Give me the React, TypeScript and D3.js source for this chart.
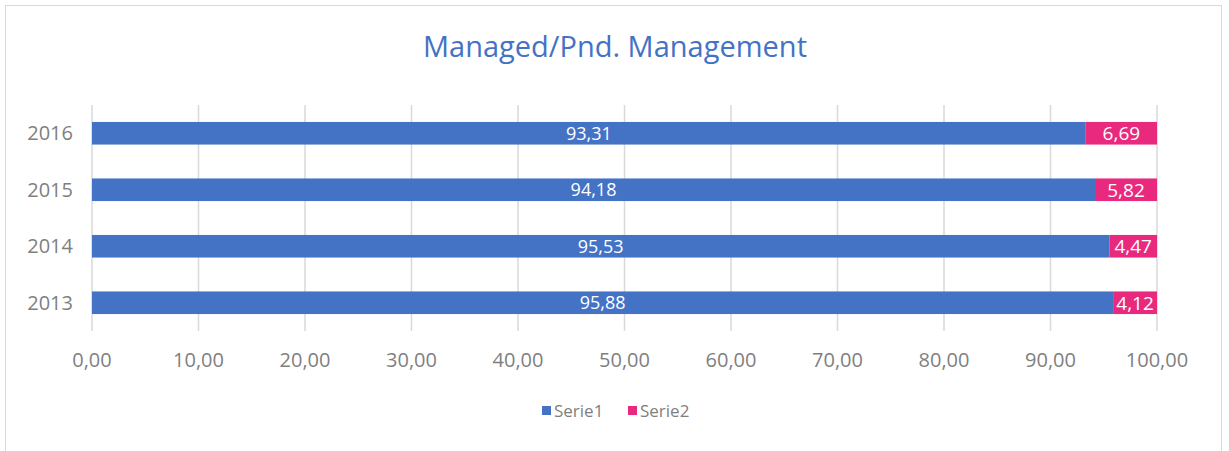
import React, {JSX} from "react";
import * as d3 from "d3";

const years = ["2016", "2015", "2014", "2013"];
const serie1 = [93.31, 94.18, 95.53, 95.88];
const serie2 = [6.69, 5.82, 4.47, 4.12];
const xTicks = [0, 10, 20, 30, 40, 50, 60, 70, 80, 90, 100];
const seriesNames = ["Serie1", "Serie2"];
const colors = ["#4472C4", "#E8297E"];

const fmt = (v: number) => v.toFixed(2).replace(".", ",");

export default function App(): JSX.Element {
    const width = 1229
    const height = 451
    const font = "'Open Sans', 'Noto Sans', sans-serif"
    const x = d3.scaleLinear([0, 100], [92, 1157]);
    const y = d3.scaleBand(years, [105, 331]).paddingInner(0.6).paddingOuter(0.3);
    const bh = y.bandwidth();

    return (
        <div style={{position: "absolute", left: 0, top: 0}}>
            <svg width={width} height={height} style={{display: "block", fontFamily: font}}>
                <rect x={5.5} y={5.5} width={1216} height={460} fill="white" stroke="#D9D9D9"/>
                <text x={615} y={57} textAnchor="middle" fontSize={29} fill="#4472C4">Managed/Pnd. Management</text>
                <g stroke="#D9D9D9" strokeWidth={1.5}>
                    {xTicks.map(t => (
                        <line key={t} x1={x(t)} x2={x(t)} y1={105} y2={331}/>
                    ))}
                </g>
                {years.map((yr, i) => {
                    const yy = y(yr) as number;
                    const cy = yy + bh / 2;
                    return (
                        <g key={yr}>
                            <rect x={x(0)} y={yy} width={x(serie1[i]) - x(0)} height={bh} fill={colors[0]}/>
                            <rect x={x(serie1[i])} y={yy} width={x(serie1[i] + serie2[i]) - x(serie1[i])} height={bh} fill={colors[1]}/>
                            <text x={(x(0) + x(serie1[i])) / 2} y={cy} dy="0.36em" textAnchor="middle" fontSize={18} fill="white">{fmt(serie1[i])}</text>
                            <text x={(x(serie1[i]) + x(serie1[i] + serie2[i])) / 2} y={cy} dy="0.36em" textAnchor="middle" fontSize={19} fill="white">{fmt(serie2[i])}</text>
                            <text x={73} y={cy} dy="0.36em" textAnchor="end" fontSize={20} fill="#7F7F7F">{yr}</text>
                        </g>
                    );
                })}
                {xTicks.map(t => (
                    <text key={t} x={x(t)} y={360} dy="0.36em" textAnchor="middle" fontSize={20} fill="#7F7F7F">{fmt(t)}</text>
                ))}
                {seriesNames.map((s, i) => {
                    const lx = [542, 628][i];
                    return (
                        <g key={s}>
                            <rect x={lx} y={406} width={9} height={9} fill={colors[i]}/>
                            <text x={lx + 12} y={411} dy="0.36em" fontSize={17} fill="#7F7F7F">{s}</text>
                        </g>
                    );
                })}
            </svg>
        </div>
    )
}
